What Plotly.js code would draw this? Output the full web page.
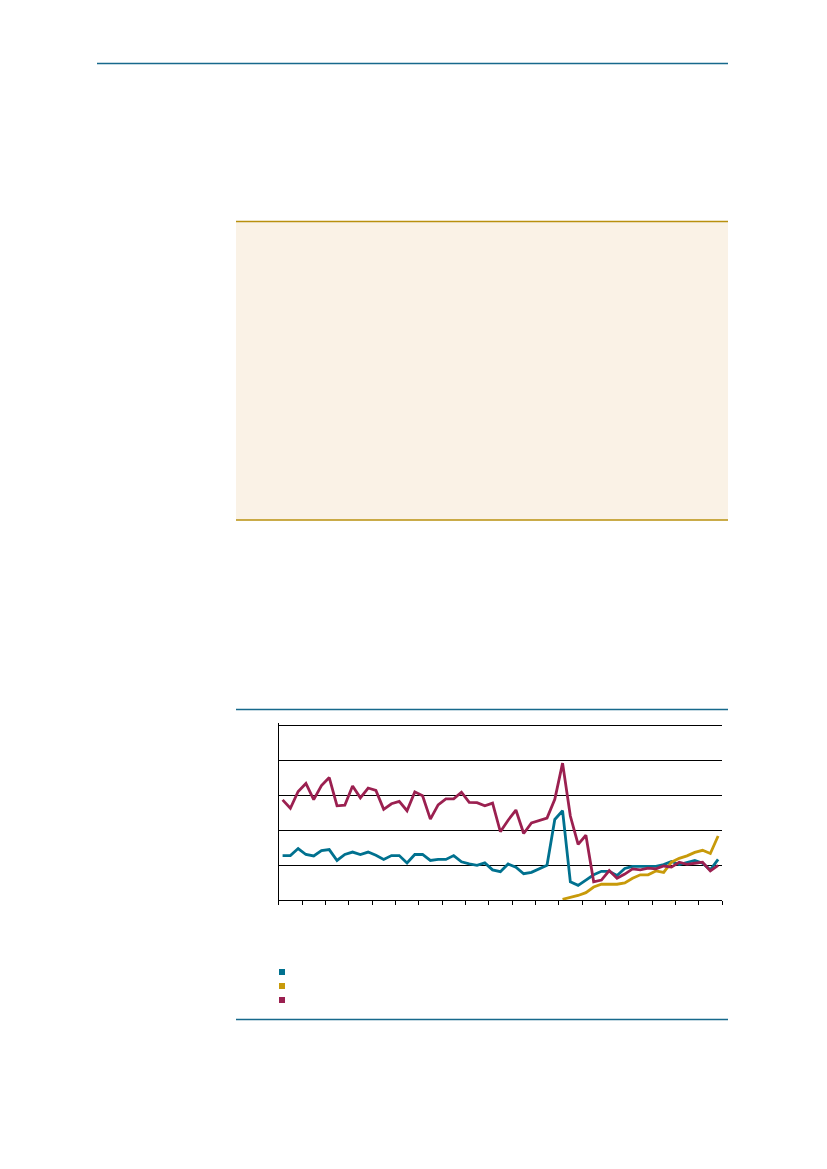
<!DOCTYPE html>
<html>
<head>
<meta charset="utf-8">
<script src="https://cdn.plot.ly/plotly-3.0.1.min.js"></script>
<style>
  html, body { margin: 0; padding: 0; background: #fff; }
  #page { width: 827px; height: 1169px; }
</style>
</head>
<body>
<div id="page"></div>
<script>
// values, one per period (57 periods, tick every 3)
const tealValues = [
    1.27, 1.27, 1.47, 1.30, 1.26, 1.41, 1.44, 1.13, 1.30, 1.37,
    1.30, 1.37, 1.28, 1.16, 1.27, 1.27, 1.06, 1.30, 1.30, 1.13,
    1.16, 1.16, 1.27, 1.09, 1.03, 0.99, 1.06, 0.86, 0.81, 1.03,
    0.94, 0.75, 0.79, 0.90, 0.99, 2.30, 2.55, 0.52, 0.42, 0.57,
    0.72, 0.82, 0.82, 0.70, 0.90, 0.96, 0.96, 0.96, 0.96, 1.01,
    1.10, 1.01, 1.07, 1.13, 1.05, 0.86, 1.16
];
const redValues = [
    2.86, 2.62, 3.10, 3.33, 2.87, 3.27, 3.50, 2.69, 2.71, 3.26,
    2.92, 3.20, 3.13, 2.59, 2.75, 2.82, 2.55, 3.09, 2.98, 2.31,
    2.72, 2.89, 2.89, 3.08, 2.79, 2.78, 2.69, 2.77, 1.95, 2.28,
    2.57, 1.90, 2.20, 2.27, 2.34, 2.88, 3.91, 2.40, 1.59, 1.85,
    0.52, 0.57, 0.84, 0.62, 0.74, 0.89, 0.86, 0.91, 0.89, 0.97,
    0.94, 1.08, 1.02, 1.05, 1.08, 0.83, 0.99
];
// gold series only starts at period 36
const goldStart = 36;
const goldValues = [
    0.02, 0.07, 0.13, 0.21, 0.37, 0.45, 0.45, 0.45, 0.49, 0.62,
    0.72, 0.72, 0.83, 0.79, 1.08, 1.19, 1.26, 1.36, 1.42, 1.33,
    1.83
];
const gridValues = [0, 1, 2, 3, 4, 5];

const periods = tealValues.map((_, i) => i);
const tickBounds = [];
for (let b = -0.5; b <= periods.length - 0.5; b += 3) tickBounds.push(b);

const colors = { teal: '#00718f', gold: '#c89a0a', red: '#9b2050' };
const rule = '#17698c';
const boxRule = '#b8900e';

const W = 827, H = 1169;
const px = x => x / W;
const py = y => 1 - y / H;

const traces = [
    { x: periods, y: tealValues, color: colors.teal },
    { x: periods.slice(goldStart), y: goldValues, color: colors.gold },
    { x: periods, y: redValues, color: colors.red }
].map(s => ({
    type: 'scatter', mode: 'lines',
    x: s.x, y: s.y,
    line: { color: s.color, width: 2.8 },
    hoverinfo: 'skip', showlegend: false
}));

function hline(y, x0, x1, color, width) {
    return { type: 'line', xref: 'paper', yref: 'paper',
        x0: px(x0), x1: px(x1), y0: py(y), y1: py(y),
        line: { color: color, width: width } };
}
function square(y, color) {
    return { type: 'rect', xref: 'paper', yref: 'paper',
        x0: px(279), x1: px(285), y0: py(y - 3), y1: py(y + 3),
        fillcolor: color, line: { width: 0 } };
}

const shapes = [
    hline(63.5, 97, 728, rule, 1.3),
    { type: 'rect', xref: 'paper', yref: 'paper', layer: 'below',
      x0: px(236), x1: px(728), y0: py(221), y1: py(520),
      fillcolor: '#faf2e6', line: { width: 0 } },
    hline(221.5, 236, 728, boxRule, 1.3),
    hline(520, 236, 728, boxRule, 1.3),
    hline(709.5, 236, 728, rule, 1.3),
    hline(1019.5, 236, 728, rule, 1.3),
    square(972, colors.teal),
    square(986, colors.gold),
    square(1000, colors.red)
];

const layout = {
    width: W, height: H,
    margin: { l: 0, r: 0, t: 0, b: 0 },
    paper_bgcolor: '#fff',
    plot_bgcolor: 'rgba(0,0,0,0)',
    showlegend: false,
    xaxis: {
        domain: [px(278.7), px(722)],
        range: [-0.5, periods.length - 0.5],
        tickmode: 'array', tickvals: tickBounds,
        ticks: 'outside', ticklen: 4, tickwidth: 1, tickcolor: '#000',
        showticklabels: false, showgrid: false, zeroline: false,
        showline: true, linecolor: '#000', linewidth: 1
    },
    yaxis: {
        domain: [py(900), py(722.7)],
        range: [0, 5.066],
        tickmode: 'array', tickvals: gridValues,
        showticklabels: false, ticks: '',
        showgrid: true, gridcolor: '#000', gridwidth: 1, zeroline: false,
        showline: true, linecolor: '#000', linewidth: 1
    },
    shapes: shapes
};

Plotly.newPlot('page', traces, layout, { displayModeBar: false, staticPlot: true });
</script>
</body>
</html>
